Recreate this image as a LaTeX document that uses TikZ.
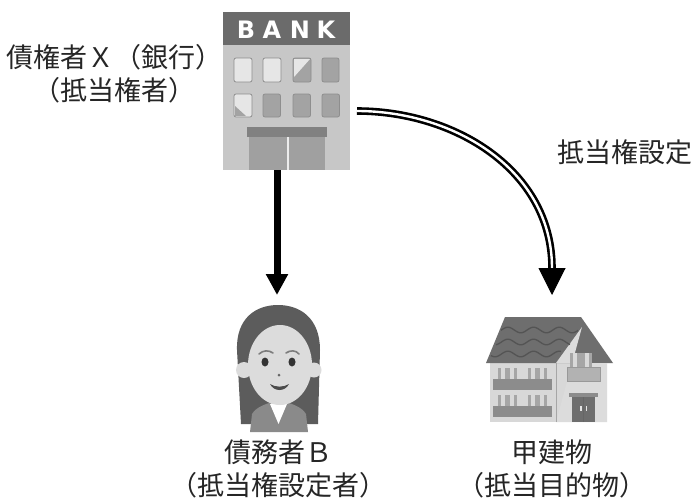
\documentclass[tikz,border=0pt]{standalone}
\usepackage{fontspec}
\newfontfamily\jpfont{Noto Sans CJK JP}
\newfontfamily\signfont{DejaVu Sans}
\usepackage{tikz}
\usetikzlibrary{positioning,arrows.meta}

\definecolor{bankwall}{HTML}{C7C7C7}
\definecolor{bankband}{HTML}{6B6B6B}
\definecolor{winlight}{HTML}{E6E6E6}
\definecolor{windark}{HTML}{A3A3A3}
\definecolor{winframe}{HTML}{8E8E8E}
\definecolor{doorgray}{HTML}{A0A0A0}
\definecolor{hair}{HTML}{5C5C5C}
\definecolor{skin}{HTML}{DCDCDC}
\definecolor{suit}{HTML}{8A8A8A}
\definecolor{roof}{HTML}{6E6E6E}
\definecolor{roofwave}{HTML}{545454}
\definecolor{housewall}{HTML}{D8D8D8}
\definecolor{balcony}{HTML}{8C8C8C}

\begin{document}
\begin{tikzpicture}[
    x=1pt,y=-1pt,
    lbl/.style={font=\jpfont\fontsize{27}{33.5}\selectfont,text=black!85,
                align=center,inner sep=0pt},
    pict/.style={rectangle,inner sep=0pt,outer sep=0pt},
    win/.style={rounded corners=2pt,draw=winframe,line width=0.8pt},
    arr/.style={-{Triangle[length=21pt,width=21pt]},line width=7pt},
    dbl/.style={double=white,double distance=2.4pt,line width=2.6pt},
    head/.style={-{Triangle[length=27pt,width=27pt]},line width=1pt}]
\fill[white] (0,0) rectangle (693,501);
\useasboundingbox (0,0) rectangle (693,501);

% --- bank building
\fill[bankwall] (223,12) rectangle (350,170);
\fill[bankband] (223,12) rectangle (350,45);
\foreach \ch/\xx in {B/246,A/272,N/300,K/326}
  \node[text=white,font=\signfont\bfseries\fontsize{24}{24}\selectfont,inner sep=0pt] at (\xx,29.5) {\ch};
\filldraw[win,fill=winlight] (234,58) rectangle (252,82);
\filldraw[win,fill=winlight] (263,58) rectangle (281,82);
\filldraw[win,fill=windark]  (293,58) rectangle (311,82);
\fill[winlight] (294,59) -- (310,59) -- (294,77) -- cycle;
\filldraw[win,fill=windark]  (322,58) rectangle (339,82);
\filldraw[win,fill=winlight] (234,94) rectangle (252,117);
\fill[windark] (235,116) -- (235,106) -- (246,116) -- cycle;
\foreach \xx in {263,293,322}
  \filldraw[win,fill=windark] (\xx,94) rectangle ++(17.5,23);
\fill[doorgray] (249,137) rectangle (325,170);
\draw[white!85!gray,line width=2pt] (287.5,137) -- (287.5,170);
\fill[bankband!85!white] (247,127) rectangle (327,137);

% --- debtor
\fill[hair] (241,424) -- (237,350) .. controls (236,318) and (256,305) .. (278,305)
  .. controls (300,305) and (320,318) .. (320,350) -- (318,424) -- cycle;
\fill[suit] (250,432) -- (252,414) .. controls (256,407) and (266,404) .. (272,402)
  -- (286,402) .. controls (292,404) and (302,407) .. (306,414) -- (308,432) -- cycle;
\fill[skin] (271,390) rectangle (286,404);
\fill[white] (270,404) -- (287,404) -- (278.5,424) -- cycle;
\fill[skin] (244,370) circle (8);
\fill[skin] (314,370) circle (7.5);
\fill[skin] (280,365) ellipse [x radius=32, y radius=40];
\draw[hair!80!white,line width=1.6pt,line cap=round]
  (259,354) .. controls (263,350) and (269,350) .. (273,353);
\draw[hair!80!white,line width=1.6pt,line cap=round]
  (286,353) .. controls (290,350) and (296,350) .. (299,354);
\fill[black!80] (265,362) ellipse [x radius=3.5, y radius=4.5];
\fill[black!80] (292,362) ellipse [x radius=3.5, y radius=4.5];
\fill[black!60] (279,375) circle (1.5);
\fill[black!70] (270,384) .. controls (274,392) and (285,392) .. (289,384)
  .. controls (284,387.5) and (275,387.5) .. cycle;

% --- house
\fill[housewall] (490,363) rectangle (607,422);
\fill[roof] (486,363) -- (505,317) -- (581,317) -- (613,363) -- cycle;
\fill[housewall!90!white] (582,327) -- (556,363) -- (607,363) -- (607,422) -- (556,422) -- cycle;
\draw[gray!70,line width=0.6pt] (556,363) -- (556,422);
\foreach \yy/\xa/\xb in {330/501/578,342/496/570,354/491/561}
  \draw[roofwave,line width=1.3pt] plot[domain=\xa:\xb,samples=60] (\x,{\yy+2.8*sin(14*\x)});
\foreach \yy in {368,395} {
  \foreach \xx in {498,528} {
    \fill[gray!70] (\xx,\yy) rectangle ++(19,12);
    \fill[gray!30] (\xx+3,\yy) rectangle ++(4,12);
    \fill[gray!30] (\xx+12,\yy) rectangle ++(4,12);
  }
  \fill[balcony] (493,\yy+11) rectangle (552,\yy+22);
}
\fill[gray!70] (570,353) rectangle (592,367);
\fill[gray!30] (573,353) rectangle (577,367);
\fill[gray!30] (585,353) rectangle (589,367);
\filldraw[fill=gray!60,draw=gray!80] (567,367) rectangle (600,381);
\fill[balcony] (569,393) rectangle (598,397);
\fill[roof] (572,397) rectangle (595,422);
\draw[black!60,line width=0.8pt] (583.5,397) -- (583.5,422);
\fill[gray!20] (580,406) rectangle (581.5,411);
\fill[gray!20] (585.5,406) rectangle (587,411);

% --- named nodes over the pictures
\node[pict,minimum width=127pt,minimum height=158pt] (bank) at (286.5,91) {};
\node[pict,minimum width=86pt,minimum height=126pt] (debtor) at (277,368) {};
\node[pict,minimum width=130pt,minimum height=106pt] (house) at (549,369.5) {};

% --- labels
\node[lbl] (creditor) at (114,73.5) {債権者Ｘ（銀行）\\（抵当権者）};
\node[lbl] (debtorlbl) at (278,469) {債務者Ｂ\\（抵当権設定者）};
\node[lbl] (houselbl) at (552,469) {甲建物\\（抵当目的物）};
\node[lbl] (setting) at (624.5,152.5) {抵当権設定};

% --- connectors
\coordinate (headbase) at ([shift={(3,-48.5)}]house.north);
\draw[arr] (bank.south -| debtor.north) -- ([shift={(0,-10)}]debtor.north);
\draw[dbl] ([shift={(7,20)}]bank.east) to[out=0,in=90] (headbase);
\draw[head] (headbase) -- ([shift={(3,-21.5)}]house.north);
\end{tikzpicture}
\end{document}
